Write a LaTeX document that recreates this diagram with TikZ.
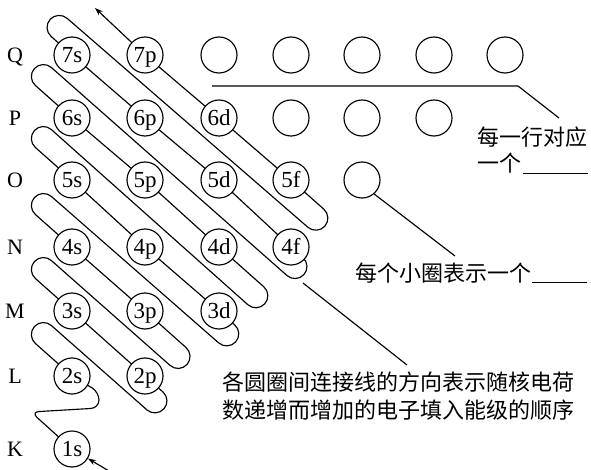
\documentclass[tikz,border=0pt]{standalone}
\usepackage{fontspec}
\setmainfont{Liberation Serif}
\newfontfamily\cjk{Noto Sans CJK SC}
\usetikzlibrary{arrows.meta,calc}
\begin{document}
\begin{tikzpicture}[x=1pt,y=-1pt,
  orb/.style={circle,draw,fill=white,line width=1.15pt,minimum size=36pt,inner sep=0pt,
    font=\fontsize{23}{23}\selectfont,text height=15.5pt,text depth=0pt},
  lbl/.style={font=\fontsize{22}{22}\selectfont,anchor=base,inner sep=0pt},
  cn/.style={font=\cjk\fontsize{22}{22}\selectfont,anchor=base west,inner sep=0pt},
  ln/.style={line width=1.15pt,line join=round},
  tip/.style={-{Stealth[length=8pt,width=5.5pt]}}]
\useasboundingbox (0,0) rectangle (591,470);
% orbital centres
\coordinate (c1s) at (72,449);
\coordinate (c2s) at (72,376); \coordinate (c2p) at (145,376);
\coordinate (c3s) at (72,311); \coordinate (c3p) at (145,311); \coordinate (c3d) at (219,311);
\coordinate (c4s) at (72,247); \coordinate (c4p) at (145,247); \coordinate (c4d) at (219,247); \coordinate (c4f) at (291,247);
\coordinate (c5s) at (72,180); \coordinate (c5p) at (145,180); \coordinate (c5d) at (219,180); \coordinate (c5f) at (291,180);
\coordinate (c6s) at (72,118); \coordinate (c6p) at (145,118); \coordinate (c6d) at (219,118);
\coordinate (c7s) at (72,55);  \coordinate (c7p) at (145,55);
% turning points
\coordinate (k1) at (31,412); \coordinate (k2) at (99,408); \coordinate (k3) at (99,392);
\coordinate (L2a) at (26.4,335.5); \coordinate (L2b) at (42.4,317.6);
\coordinate (R2a) at (155.9,417.8); \coordinate (R2b) at (171.9,399.9);
\coordinate (L3a) at (26.4,270.5); \coordinate (L3b) at (42.4,252.6);
\coordinate (R3a) at (179.1,373.4); \coordinate (R3b) at (195.0,355.5);
\coordinate (L4a) at (26.4,206.5); \coordinate (L4b) at (42.4,188.6);
\coordinate (R4a) at (227.7,350.8); \coordinate (R4b) at (243.7,332.9);
\coordinate (L5a) at (26.4,139.5); \coordinate (L5b) at (42.4,121.6);
\coordinate (R5a) at (256.8,312.7); \coordinate (R5b) at (272.8,294.8);
\coordinate (L6a) at (26.4,77.5);  \coordinate (L6b) at (42.4,59.6);
\coordinate (R6a) at (296.0,283.5); \coordinate (R6b) at (311.9,265.6);
\coordinate (L7a) at (42.1,28.4);  \coordinate (L7b) at (58.1,10.5);
\coordinate (R7a) at (316.9,235.1); \coordinate (R7b) at (332.8,217.2);
\coordinate (tipT) at (95,8);
\coordinate (tailB) at (114,474);
% snake
\draw[ln,tip,rounded corners=8pt] (c1s) -- (k1) -- (k2) -- (k3) -- (c2s)
  [rounded corners=12pt]
  -- (L2a) -- (L2b) -- (R2a) -- (R2b) -- (c2p) -- (c3s)
  -- (L3a) -- (L3b) -- (R3a) -- (R3b) -- (c3p) -- (c4s)
  -- (L4a) -- (L4b) -- (R4a) -- (R4b) -- (c3d) -- (c4p) -- (c5s)
  -- (L5a) -- (L5b) -- (R5a) -- (R5b) -- (c4d) -- (c5p) -- (c6s)
  -- (L6a) -- (L6b) -- (R6a) -- (R6b) -- (c4f) -- (c5d) -- (c6p) -- (c7s)
  -- (L7a) -- (L7b) -- (R7a) -- (R7b) -- (c5f) -- (c6d) -- (c7p) -- (tipT);
% orbitals
\node[orb] (n1s) at (c1s) {1s};
\node[orb] (n2s) at (c2s) {2s}; \node[orb] (n2p) at (c2p) {2p};
\node[orb] (n3s) at (c3s) {3s}; \node[orb] (n3p) at (c3p) {3p}; \node[orb] (n3d) at (c3d) {3d};
\node[orb] (n4s) at (c4s) {4s}; \node[orb] (n4p) at (c4p) {4p}; \node[orb] (n4d) at (c4d) {4d}; \node[orb] (n4f) at (c4f) {4f};
\node[orb] (n5s) at (c5s) {5s}; \node[orb] (n5p) at (c5p) {5p}; \node[orb] (n5d) at (c5d) {5d}; \node[orb] (n5f) at (c5f) {5f};
\node[orb] (n6s) at (c6s) {6s}; \node[orb] (n6p) at (c6p) {6p}; \node[orb] (n6d) at (c6d) {6d};
\node[orb] (n7s) at (c7s) {7s}; \node[orb] (n7p) at (c7p) {7p};
% empty circles
\node[orb] (q3) at (219,55) {}; \node[orb] (q4) at (291,55) {}; \node[orb] (q5) at (362,55) {};
\node[orb] (q6) at (434,55) {}; \node[orb] (q7) at (505,55) {};
\node[orb] (p4) at (291,118) {}; \node[orb] (p5) at (362,118) {}; \node[orb] (p6) at (434,118) {};
\node[orb] (o5) at (362,180) {};
% row labels
\node[lbl] (rQ) at (15,62.5) {Q};
\node[lbl] (rP) at (15,125.5) {P};
\node[lbl] (rO) at (15,187.5) {O};
\node[lbl] (rN) at (15,254.5) {N};
\node[lbl] (rM) at (15,318.5) {M};
\node[lbl] (rL) at (15,383.5) {L};
\node[lbl] (rK) at (15,456.5) {K};
% entry arrow
\draw[ln,tip] (tailB) -- (n1s);
% annotations
\coordinate (h1) at (212,86); \coordinate (h2) at (518,86); \coordinate (h3) at (559,118);
\draw[ln] (h1) -- (h2) -- (h3);
\node[cn] (t1) at (477,145.4) {每一行对应};
\node[cn] (t2) at (477,171.4) {一个\hspace{2pt}\rule[-2.5pt]{65pt}{0.9pt}};
\coordinate (m2) at (455,256);
\draw[ln] (o5.-49) -- (m2);
\node[cn] (t3) at (355,281.4) {每个小圈表示一个\hspace{1pt}\rule[-1.6pt]{55pt}{0.9pt}};
\coordinate (g1) at (303,283); \coordinate (g2) at (407,365);
\draw[ln] (g1) -- (g2);
\node[cn] (t4) at (222,390.4) {各圆圈间连接线的方向表示随核电荷};
\node[cn] (t5) at (222,418.4) {数递增而增加的电子填入能级的顺序};
\end{tikzpicture}
\end{document}
